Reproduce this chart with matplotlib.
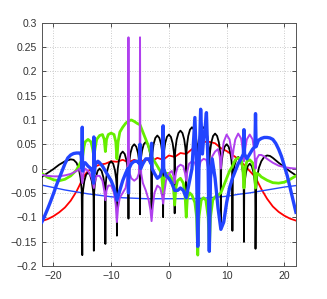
import matplotlib
matplotlib.use("Agg")
import matplotlib.pyplot as plt

# ---------------- data ----------------
red_x = [-22, -21, -20, -19, -18, -17, -16, -15.5, -15, -14.5, -14, -13, -12, -11, -10, -9, -8, -7, -6, -5,
         -4, -3, -2, -1, 0, 1, 2, 3, 4, 5, 6, 7, 8, 9, 10, 11, 12, 13, 14, 15, 15.5, 16, 17, 18, 19, 20, 21, 22]
red_y = [-0.108, -0.104, -0.098, -0.09, -0.08, -0.066, -0.047, -0.035, -0.022, -0.012, -0.005, 0.003, 0.008,
         0.01, 0.015, 0.014, 0.018, 0.013, 0.018, 0.013, 0.019, 0.015, 0.022, 0.018, 0.027, 0.024, 0.032, 0.03,
         0.04, 0.045, 0.055, 0.055, 0.052, 0.042, 0.036, 0.028, 0.02, 0.008, -0.005, -0.018, -0.03, -0.042,
         -0.062, -0.078, -0.089, -0.097, -0.103, -0.107]

thin_blue_x = [-22, -20, -18, -16, -14, -12, -10, -8, -6, -4, -2, 0, 2, 4, 6, 8, 10, 12, 14, 16, 18, 20, 22]
thin_blue_y = [-0.034, -0.039, -0.044, -0.048, -0.052, -0.055, -0.058, -0.06, -0.061, -0.062, -0.062, -0.062,
               -0.062, -0.062, -0.061, -0.059, -0.057, -0.053, -0.05, -0.046, -0.042, -0.038, -0.035]

black_x = [-22, -21, -20, -19, -18, -17, -16.5, -16, -15.6, -15.3, -15.1, -15,
           -14.95, -14.85, -14.65, -14.35, -14, -13.65, -13.35, -13.15, -13.05, -13,
           -12.95, -12.85, -12.65, -12.35, -12, -11.65, -11.35, -11.15, -11.05, -11,
           -10.95, -10.85, -10.65, -10.35, -10, -9.65, -9.35, -9.15, -9.05, -9,
           -8.95, -8.85, -8.65, -8.35, -8, -7.65, -7.35, -7.15, -7.05, -7,
           -6.95, -6.85, -6.65, -6.35, -6, -5.65, -5.35, -5.15, -5.05, -5,
           -4.95, -4.85, -4.65, -4.35, -4, -3.65, -3.35, -3.15, -3.05, -3,
           -2.95, -2.85, -2.65, -2.35, -2, -1.65, -1.35, -1.15, -1.05, -1,
           -0.95, -0.85, -0.65, -0.35, 0, 0.35, 0.65, 0.85, 0.95, 1,
           1.05, 1.15, 1.35, 1.65, 2, 2.35, 2.65, 2.85, 2.95, 3,
           3.05, 3.15, 3.35, 3.65, 4, 4.35, 4.65, 4.85, 4.95, 5,
           5.05, 5.15, 5.35, 5.65, 6, 6.35, 6.65, 6.85, 6.95, 7,
           7.05, 7.15, 7.35, 7.65, 8, 8.35, 8.65, 8.85, 8.95, 9,
           9.05, 9.15, 9.35, 9.65, 10, 10.35, 10.65, 10.85, 10.95, 11,
           11.05, 11.15, 11.35, 11.65, 12, 12.35, 12.65, 12.85, 12.95, 13,
           13.05, 13.15, 13.35, 13.65, 14, 14.35, 14.65, 14.85, 14.95, 15,
           15.1, 15.3, 15.6, 16, 16.5, 17, 17.5, 18, 19, 20, 21, 22]
black_y = [-0.017, -0.009, -0.001, 0.008, 0.015, 0.019, 0.018, 0.012, 0.0, -0.02, -0.045, -0.178,
           -0.058, -0.043, -0.026, -0.013, -0.008, -0.013, -0.026, -0.043, -0.058, -0.169,
           -0.05, -0.035, -0.018, -0.005, 0.0, -0.005, -0.018, -0.035, -0.05, -0.155,
           -0.035, -0.02, -0.003, 0.01, 0.015, 0.01, -0.003, -0.02, -0.035, -0.138,
           -0.015, 0.0, 0.017, 0.03, 0.035, 0.03, 0.017, 0.0, -0.015, -0.103,
           0.0, 0.015, 0.032, 0.045, 0.05, 0.045, 0.032, 0.015, 0.0, -0.094,
           0.005, 0.02, 0.037, 0.05, 0.055, 0.05, 0.037, 0.02, 0.005, -0.084,
           0.018, 0.033, 0.05, 0.063, 0.068, 0.063, 0.05, 0.033, 0.018, -0.1,
           0.02, 0.035, 0.052, 0.065, 0.07, 0.065, 0.052, 0.035, 0.02, -0.092,
           0.028, 0.043, 0.06, 0.073, 0.078, 0.073, 0.06, 0.043, 0.028, -0.09,
           0.035, 0.05, 0.067, 0.08, 0.085, 0.08, 0.067, 0.05, 0.035, -0.1,
           0.035, 0.05, 0.067, 0.08, 0.085, 0.08, 0.067, 0.05, 0.035, -0.11,
           0.022, 0.037, 0.054, 0.067, 0.072, 0.067, 0.054, 0.037, 0.022, -0.12,
           0.0, 0.015, 0.032, 0.045, 0.05, 0.045, 0.032, 0.015, 0.0, -0.128,
           -0.026, -0.011, 0.006, 0.019, 0.024, 0.019, 0.006, -0.011, -0.026, -0.151,
           -0.04, -0.025, -0.008, 0.005, 0.01, 0.005, -0.008, -0.025, -0.04, -0.165,
           -0.045, -0.015, 0.002, 0.015, 0.024, 0.027, 0.026, 0.022, 0.012, 0.003, -0.006, -0.014]

green_x = [-22, -21, -20, -19, -18, -17, -16, -15.5, -15, -14.7, -14.5, -14, -13.5, -13.2, -13, -12.8, -12.5,
           -12, -11.5, -11.2, -11, -10.8, -10.5, -10, -9.5, -9.2, -9, -8.8, -8.5, -8, -7.5, -7, -6.5, -6,
           -5.5, -5, -4.5, -4, -3.5, -3, -2.5, -2, -1.5, -1.2, -1, -0.8, -0.5, 0, 0.5, 0.8, 1, 1.2, 1.5, 2,
           2.5, 2.8, 3, 3.2, 3.6, 4, 4.5, 4.8, 5, 5.2, 5.6, 6, 6.4, 6.8, 7, 7.2, 7.6, 8, 8.5, 9, 9.5, 10,
           10.5, 11, 11.5, 12, 12.5, 12.8, 13, 13.2, 13.5, 14, 14.5, 14.8, 15, 15.2, 15.6, 16, 17, 18, 19,
           20, 21, 22]
green_y = [-0.01, -0.018, -0.023, -0.025, -0.022, -0.015, -0.003, 0.008, 0.02, 0.045, 0.055, 0.06, 0.055,
           0.04, 0.025, 0.04, 0.06, 0.068, 0.07, 0.06, 0.035, 0.06, 0.07, 0.073, 0.07, 0.055, 0.02, 0.055,
           0.075, 0.085, 0.093, 0.098, 0.1, 0.097, 0.093, 0.09, 0.075, 0.06, 0.045, 0.025, 0.015, 0.005,
           -0.005, -0.02, -0.05, -0.02, -0.01, -0.01, -0.02, -0.04, -0.075, -0.04, -0.025, -0.02, -0.03,
           -0.055, -0.1, -0.06, -0.05, -0.055, -0.07, -0.1, -0.178, -0.1, -0.065, -0.06, -0.065, -0.1,
           -0.17, -0.1, -0.065, -0.058, -0.055, -0.05, -0.035, -0.02, -0.005, 0.005, 0.018, 0.022, 0.02,
           0.0, -0.04, 0.0, 0.015, 0.018, 0.012, -0.005, -0.04, -0.01, -0.012, -0.017, -0.024, -0.029,
           -0.03, -0.028, -0.022, -0.015]

purple_x = [-22, -21, -20, -19, -18, -17, -16.5, -16, -15.5, -15.2, -15, -14.8, -14.5, -14, -13.5, -13.2, -13,
            -12.8, -12.5, -12, -11.5, -11.2, -11, -10.8, -10.5, -10, -9.5, -9.2, -9, -8.8, -8.5, -8, -7.5,
            -7.2, -7.05, -7, -6.95, -6.8, -6.5, -6, -5.5, -5.2, -5.05, -5, -4.95, -4.8, -4.5, -4, -3.5, -3.2,
            -3, -2.8, -2.5, -2, -1.5, -1.2, -1, -0.8, -0.5, 0, 0.5, 0.8, 1, 1.2, 1.5, 2, 2.5, 2.8, 3, 3.2,
            3.5, 4, 4.5, 4.8, 5, 5.2, 5.5, 6, 6.5, 6.8, 7, 7.2, 7.5, 8, 8.5, 8.8, 9, 9.2, 9.5, 10, 10.5,
            10.8, 11, 11.2, 11.5, 12, 12.5, 12.8, 13, 13.2, 13.5, 14, 14.5, 14.8, 15, 15.2, 15.6, 16, 16.5,
            17, 18, 19, 20, 21, 22]
purple_y = [-0.013, -0.015, -0.016, -0.016, -0.014, -0.011, -0.008, -0.005, 0.0, -0.01, -0.03, -0.01, 0.0,
            -0.005, -0.015, -0.025, -0.04, -0.025, -0.015, -0.015, -0.025, -0.045, -0.065, -0.045, -0.035,
            -0.035, -0.05, -0.075, -0.11, -0.08, -0.06, -0.05, -0.04, -0.02, 0.05, 0.27, 0.05, -0.01, -0.02,
            -0.025, -0.02, -0.01, 0.05, 0.27, 0.05, -0.01, -0.03, -0.045, -0.065, -0.085, -0.108, -0.08,
            -0.05, -0.035, -0.04, -0.055, -0.072, -0.05, -0.025, -0.01, -0.005, -0.015, -0.03, -0.01, 0.003,
            0.008, 0.005, -0.01, -0.025, -0.005, 0.01, 0.015, 0.012, 0.0, -0.02, 0.0, 0.015, 0.02, 0.018,
            0.0, -0.02, 0.005, 0.025, 0.035, 0.04, 0.025, 0.0, 0.03, 0.055, 0.07, 0.06, 0.04, 0.02, 0.04,
            0.06, 0.072, 0.062, 0.04, 0.015, 0.04, 0.06, 0.07, 0.06, 0.035, 0.0, 0.02, 0.028, 0.028, 0.025,
            0.02, 0.012, 0.006, 0.003, 0.001, 0.0]

blue_x = [-22, -21.5, -21, -20.5, -20, -19.5, -19, -18.5, -18, -17.5, -17, -16.5, -16, -15.5, -15.2, -15.05,
          -15, -14.95, -14.8, -14.5, -14, -13.5, -13.2, -13.05, -13, -12.95, -12.7, -12.3, -12, -11.5, -11,
          -10.5, -10, -9.5, -9, -8.5, -8, -7.5, -7.1, -7, -6.9, -6.5, -6, -5.5, -5.1, -5, -4.9, -4.5, -4,
          -3.5, -3.1, -3, -2.9, -2.5, -2, -1.5, -1.1, -1, -0.9, -0.5, 0, 0.5, 1, 1.5, 2, 2.5, 3, 3.5, 4,
          4.5, 4.8, 5, 5.2, 5.5, 5.8, 6, 6.2, 6.5, 6.8, 7, 7.2, 7.5, 8, 8.5, 9, 9.5, 10, 10.5, 11, 11.5,
          12, 12.5, 12.9, 13, 13.1, 13.5, 14, 14.5, 14.9, 15, 15.1, 15.5, 16, 16.5, 17, 17.5, 18, 18.5, 19,
          19.5, 20, 20.5, 21, 21.5, 22]
blue_y = [-0.11, -0.097, -0.083, -0.068, -0.052, -0.035, -0.02, -0.005, 0.01, 0.022, 0.028, 0.031, 0.032,
          0.032, 0.028, 0.0, 0.085, -0.005, 0.01, 0.012, 0.005, 0.0, -0.01, -0.03, 0.065, -0.01, 0.01, 0.015,
          0.012, 0.005, -0.005, -0.015, -0.025, -0.04, -0.065, -0.045, -0.025, -0.01, 0.0, -0.05, 0.0, 0.01,
          0.015, 0.015, 0.01, 0.05, 0.0, 0.01, 0.02, 0.02, 0.01, 0.052, 0.0, -0.01, -0.02, -0.015, 0.0,
          0.088, 0.0, -0.015, -0.02, -0.03, -0.045, -0.045, -0.04, -0.045, -0.06, -0.03, 0.0, 0.105, 0.0,
          -0.16, 0.0, 0.122, 0.03, 0.06, 0.075, 0.115, 0.0, -0.17, -0.02, 0.02, -0.02, -0.08, -0.125, -0.11,
          -0.07, -0.04, -0.02, -0.005, 0.01, 0.02, 0.03, 0.08, 0.03, 0.02, 0.03, 0.04, 0.045, 0.113, 0.045,
          0.058, 0.062, 0.064, 0.064, 0.063, 0.06, 0.052, 0.04, 0.025, 0.005, -0.015, -0.04, -0.065, -0.09]

x_ticks = [-20, -10, 0, 10, 20]
y_ticks = [-0.2, -0.15, -0.1, -0.05, 0, 0.05, 0.1, 0.15, 0.2, 0.25, 0.3]
y_tick_labels = ["\u22120.2", "\u22120.15", "\u22120.1", "\u22120.05", "0", "0.05", "0.1", "0.15", "0.2",
                 "0.25", "0.3"]
x_tick_labels = ["\u221220", "\u221210", "0", "10", "20"]

# ---------------- figure ----------------
plt.rcParams['font.family'] = ['Liberation Sans', 'DejaVu Sans']
fig = plt.figure(figsize=(3.27, 2.99), dpi=100)
ax = fig.add_axes([0.128, 0.111, 0.777, 0.813])

ax.plot(red_x, red_y, color='#ff0000', lw=1.3, zorder=2)
ax.plot(thin_blue_x, thin_blue_y, color='#2248ff', lw=1.0, zorder=2)
ax.plot(black_x, black_y, color='black', lw=1.3, zorder=3)
ax.plot(green_x, green_y, color='#66ee00', lw=2.0, zorder=4)
ax.plot(purple_x, purple_y, color='#b040ee', lw=1.4, zorder=5)
ax.plot(blue_x, blue_y, color='#2244ff', lw=2.4, zorder=6)

ax.set_xlim(-22, 22)
ax.set_ylim(-0.2, 0.3)
ax.set_xticks(x_ticks)
ax.set_xticklabels(x_tick_labels)
ax.set_yticks(y_ticks)
ax.set_yticklabels(y_tick_labels)
ax.grid(True, color='#bbbbbb', linestyle=(0, (1, 2)), linewidth=0.6)
ax.tick_params(direction='in', length=3, width=0.6, labelsize=7.5, top=True, right=True, colors='#333333')
for s in ax.spines.values():
    s.set_linewidth(0.7)
    s.set_color('#555555')

fig.savefig('out.png', dpi=100)
